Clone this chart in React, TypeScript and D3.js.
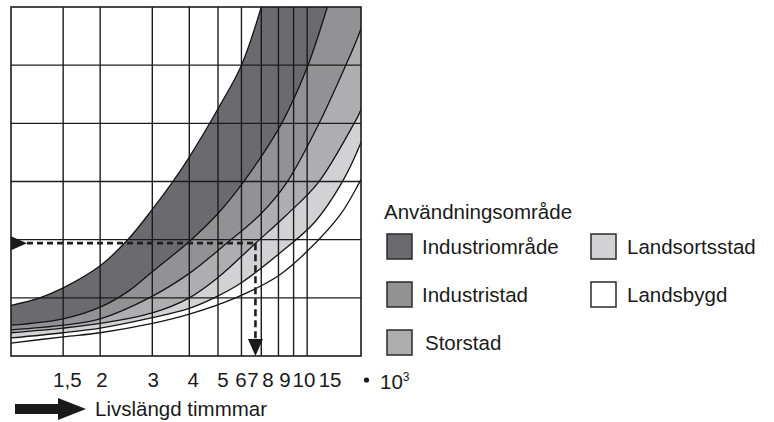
import React from "react";
import * as d3 from "d3";

// Grid positions along the hours axis (thousands of hours, log scale)
const hoursTicks = [1.5, 2, 3, 4, 5, 6, 7, 8, 9, 10];
const levelTicks = [1, 2, 3, 4, 5];
// Tick labels and the hour value under which each label is printed
const tickLabels = ["1,5", "2", "3", "4", "5", "6", "7", "8", "9", "10", "15"];
const tickLabelAt = [1.55, 2.03, 3.02, 4.12, 5.2, 5.98, 6.56, 7.37, 8.42, 9.75, 11.95];

const categories = ["Industriområde", "Industristad", "Storstad", "Landsortsstad", "Landsbygd"];
const colors = ["#6b6b6f", "#929295", "#aeaeb1", "#d2d2d4", "#ffffff"];

// Boundary curves [hours (x1000), level]
const curveIndustriomrade: [number, number][] = [[1, 0.87], [1.25, 1.0], [1.5, 1.17], [2, 1.55], [2.5, 2.02], [3, 2.52], [3.5, 2.98], [4, 3.42], [5, 4.25], [6, 5.0], [7, 6.0], [7.5, 6.6]];
const curveIndustristad: [number, number][] = [[1, 0.53], [1.5, 0.64], [2, 0.84], [2.5, 1.12], [3, 1.45], [4, 1.97], [5, 2.45], [6.07, 2.98], [8.14, 3.97], [10, 4.96], [11.7, 6.0], [12.5, 6.5]];
const curveStorstad: [number, number][] = [[1, 0.45], [1.5, 0.53], [2, 0.64], [2.93, 1.0], [4, 1.42], [5.35, 1.94], [7, 2.45], [8.53, 2.98], [10.9, 3.97], [13.4, 4.96], [15, 5.55], [16.5, 6.2]];
const curveLandsortsstad: [number, number][] = [[1, 0.4], [1.5, 0.48], [2, 0.56], [3, 0.74], [4, 1.0], [5, 1.35], [6.7, 1.94], [8.5, 2.42], [10.9, 2.98], [14.3, 3.97], [15, 4.17], [16.5, 4.75]];
const curveLandsbygd: [number, number][] = [[1, 0.31], [1.5, 0.4], [2, 0.48], [3, 0.66], [4, 0.82], [4.85, 1.0], [6, 1.26], [8, 1.75], [10.6, 2.3], [13.1, 2.98], [15, 3.6], [16.5, 4.2]];
const curveLower: [number, number][] = [[1, 0.22], [1.5, 0.33], [2, 0.4], [3, 0.56], [4, 0.72], [5.73, 1.0], [8, 1.38], [10, 1.8], [12.9, 2.42], [15, 2.98], [16.5, 3.4]];

const bandCurves = [curveIndustriomrade, curveIndustristad, curveStorstad, curveLandsortsstad, curveLandsbygd];
const allCurves = [...bandCurves, curveLower];

// Reading example (dashed arrows)
const exampleHours = 6.69;
const exampleLevel = 1.94;

const FONT = "'Liberation Sans', Arial, Helvetica, sans-serif";
const FS = 20.5;

export default function App() {
  const W = 774, H = 422;
  const x = d3.scaleLog().domain([1, 15.2]).range([11, 361]);
  const y = d3.scaleLinear().domain([0, 6]).range([356, 7]);
  const [L, R] = x.range();
  const [B, T] = y.range();

  const line = d3
    .line<[number, number]>()
    .x((d) => x(d[0]))
    .y((d) => y(d[1]))
    .curve(d3.curveCatmullRom.alpha(0.5));

  const fillPath = (c: [number, number][]) => {
    const last = c[c.length - 1];
    const first = c[0];
    return (
      line(c) +
      `L${R + 20},${y(last[1])}L${R + 20},${B + 20}L${L - 20},${B + 20}L${L - 20},${y(first[1])}Z`
    );
  };

  const ex = x(exampleHours);
  const ey = y(exampleLevel);

  const legendRows = [
    { i: 0, col: 0, row: 0 },
    { i: 1, col: 0, row: 1 },
    { i: 2, col: 0, row: 2 },
    { i: 3, col: 1, row: 0 },
    { i: 4, col: 1, row: 1 },
  ];

  return (
    <svg
      width={W}
      height={H}
      style={{ position: "absolute", left: 0, top: 0, background: "#fff" }}
      fontFamily={FONT}
    >
      <defs>
        <clipPath id="plot">
          <rect x={L} y={T} width={R - L} height={B - T} />
        </clipPath>
      </defs>
      <rect x={0} y={0} width={W} height={H} fill="#fff" />
      <g clipPath="url(#plot)">
        {bandCurves.map((c, i) => (
          <path key={i} d={fillPath(c)} fill={colors[i]} />
        ))}
      </g>
      {/* grid */}
      <g stroke="#1c1c1c" strokeWidth={1.4}>
        {hoursTicks.map((t) => (
          <line key={"v" + t} x1={x(t)} x2={x(t)} y1={T} y2={B} />
        ))}
        {levelTicks.map((t) => (
          <line key={"h" + t} x1={L} x2={R} y1={y(t)} y2={y(t)} />
        ))}
      </g>
      <g clipPath="url(#plot)" fill="none" stroke="#151515" strokeWidth={1.3}>
        {allCurves.map((c, i) => (
          <path key={i} d={line(c) || ""} />
        ))}
      </g>
      <rect x={L} y={T} width={R - L} height={B - T} fill="none" stroke="#1c1c1c" strokeWidth={1.6} />

      {/* dashed reading example */}
      <g stroke="#1e1e1e" strokeWidth={2.6} fill="none">
        <line x1={L + 16} x2={ex} y1={ey} y2={ey} strokeDasharray="6 4" />
        <line x1={ex} x2={ex} y1={ey} y2={B - 16} strokeDasharray="7 4" />
      </g>
      <polygon points={`${L},${ey - 7} ${L + 16},${ey} ${L},${ey + 7}`} fill="#1a1a1a" />
      <polygon points={`${ex - 7.5},${B - 17} ${ex + 7.5},${B - 17} ${ex},${B}`} fill="#1a1a1a" />

      {/* x labels */}
      <g fontSize={FS} fill="#1a1a1a" textAnchor="middle">
        {tickLabels.map((t, i) => (
          <text key={t} x={x(tickLabelAt[i])} y={387}>
            {t}
          </text>
        ))}
      </g>
      <circle cx={R + 5.5} cy={380} r={2.6} fill="#1a1a1a" />
      <text x={R + 19} y={389} fontSize={FS} fill="#1a1a1a">
        10
        <tspan dy={-8} fontSize={12}>3</tspan>
      </text>

      {/* axis arrow */}
      <rect x={15} y={404} width={47} height={10} fill="#1a1a1a" />
      <polygon points="58,398 86,409 58,420" fill="#1a1a1a" />
      <text x={95} y={416} fontSize={FS} fill="#1a1a1a">
        Livslängd timmmar
      </text>

      {/* legend */}
      <text x={384} y={219} fontSize={FS} fill="#1a1a1a">
        Användningsområde
      </text>
      {legendRows.map(({ i, col, row }) => {
        const sx = col === 0 ? 387 : 591;
        const sy = 234 + row * 48;
        const tx = col === 0 ? (i === 2 ? 425 : 422) : 627;
        return (
          <g key={categories[i]}>
            <rect x={sx} y={sy} width={25} height={25} fill={colors[i]} stroke="#2a2a2a" strokeWidth={1.5} />
            <text x={tx} y={sy + 20} fontSize={FS} fill="#1a1a1a">
              {categories[i]}
            </text>
          </g>
        );
      })}
    </svg>
  );
}
